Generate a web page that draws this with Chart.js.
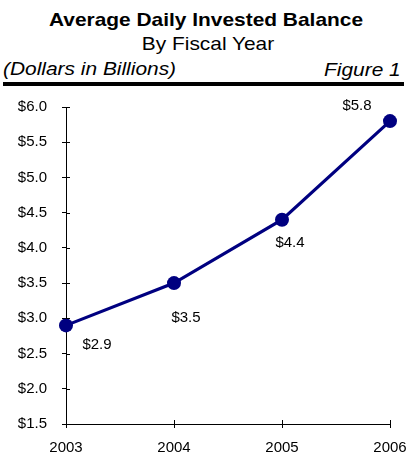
<!DOCTYPE html>
<html><head><meta charset="utf-8">
<script src="https://cdn.jsdelivr.net/npm/chart.js@4/dist/chart.umd.min.js"></script>
<style>
html,body{margin:0;padding:0;background:#fff;}
body{width:407px;height:458px;position:relative;overflow:hidden;font-family:"Liberation Sans",Arial,sans-serif;color:#000;}
.t{position:absolute;white-space:nowrap;line-height:1;font-size:19px;}
#c{position:absolute;left:0;top:0;}
</style></head><body>
<div class="t" style="left:206px;top:10px;font-weight:bold;transform:translateX(-50%) scaleX(1.1);">Average Daily Invested Balance</div>
<div class="t" style="left:208px;top:34px;transform:translateX(-50%) scaleX(1.1);">By Fiscal Year</div>
<div class="t" style="left:3px;top:59px;font-style:italic;transform-origin:left center;transform:scaleX(1.1);">(Dollars in Billions)</div>
<div class="t" style="right:6px;top:60px;font-style:italic;transform-origin:right center;transform:scaleX(1.1);">Figure 1</div>
<div style="position:absolute;left:3px;width:401px;top:82px;height:4px;background:#000;"></div>
<canvas id="c" width="407" height="458"></canvas>
<script>
const years = ["2003","2004","2005","2006"];
const balances = [2.9, 3.5, 4.4, 5.8];
const labelText = ["$2.9","$3.5","$4.4","$5.8"];
const labelOffsets = [[31,19],[12,35],[8,23],[-33,-15]];
const FONT = '"Liberation Sans", Arial, sans-serif';

const crossTicks = {
  id:'crossTicks',
  afterDraw(chart){
    const ctx = chart.ctx, x = chart.scales.x, y = chart.scales.y;
    ctx.save();
    ctx.strokeStyle = '#000'; ctx.lineWidth = 1;
    ctx.beginPath();
    y.ticks.forEach(t=>{const py=Math.round(y.getPixelForValue(t.value))+0.5; ctx.moveTo(x.left, py); ctx.lineTo(x.left+4, py);});
    x.ticks.forEach((t,i)=>{const px=Math.round(x.getPixelForValue(i))+0.5; ctx.moveTo(px, y.bottom); ctx.lineTo(px, y.bottom-4);});
    ctx.stroke();
    ctx.fillStyle='#000'; ctx.font='15px ' + FONT;
    ctx.textAlign='center'; ctx.textBaseline='middle';
    const meta = chart.getDatasetMeta(0);
    meta.data.forEach((p,i)=>{ctx.fillText(labelText[i], p.x+labelOffsets[i][0], p.y+labelOffsets[i][1]);});
    ctx.restore();
  }
};

new Chart(document.getElementById('c'), {
  type:'line',
  data:{labels:years, datasets:[{data:balances, borderColor:'#000080', backgroundColor:'#000080', borderWidth:3.2, pointRadius:7, pointHoverRadius:7, pointBackgroundColor:'#000080', pointBorderWidth:0, tension:0, clip:false}]},
  options:{
    responsive:false, animation:false, devicePixelRatio:1,
    layout:{padding:{top:107, right:17, left:0, bottom:0}},
    plugins:{legend:{display:false}, tooltip:{enabled:false}, title:{display:false}},
    scales:{
      x:{
        offset:false,
        grid:{display:true, drawOnChartArea:false, drawTicks:true, tickLength:4, color:'#000'},
        border:{display:true, color:'#000', width:1},
        ticks:{color:'#000', font:{family:FONT, size:15}, padding:11, maxRotation:0, autoSkip:false},
        afterFit(s){s.height=34; s.paddingLeft=0; s.paddingRight=0;}
      },
      y:{
        min:1.5, max:6,
        grid:{display:true, drawOnChartArea:false, drawTicks:true, tickLength:4, color:'#000'},
        border:{display:true, color:'#000', width:1},
        ticks:{stepSize:0.5, color:'#000', font:{family:FONT, size:15}, padding:15, callback:v=>'$'+Number(v).toFixed(1)},
        afterFit(s){s.width=66; s.paddingTop=0; s.paddingBottom=0;}
      }
    }
  },
  plugins:[crossTicks]
});
</script>
</body></html>
